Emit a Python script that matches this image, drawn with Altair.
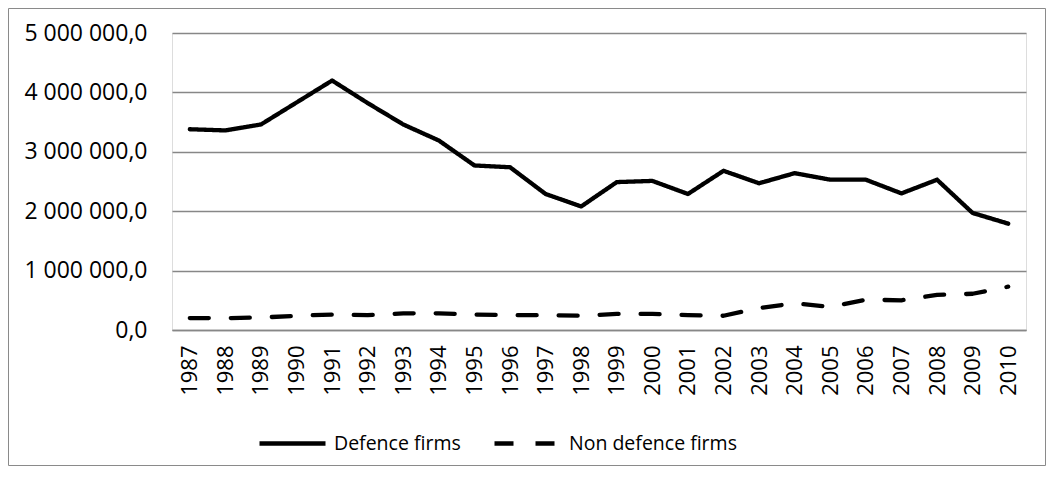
import altair as alt
import pandas as pd

years = [str(y) for y in range(1987, 2011)]
defence = [3380000, 3360000, 3460000, 3830000, 4200000, 3820000, 3460000, 3190000,
           2770000, 2740000, 2290000, 2080000, 2490000, 2510000, 2290000, 2680000,
           2470000, 2640000, 2530000, 2530000, 2300000, 2530000, 1970000, 1790000]
non_defence = [200000, 200000, 210000, 240000, 260000, 250000, 280000, 280000,
               260000, 250000, 250000, 240000, 270000, 270000, 250000, 240000,
               370000, 450000, 390000, 510000, 500000, 590000, 610000, 730000]
series_names = ["Defence firms", "Non defence firms"]

rows = []
for name, vals in zip(series_names, [defence, non_defence]):
    for y, v in zip(years, vals):
        rows.append({"year": y, "value": v, "series": name})
df = pd.DataFrame(rows)

FONT = "Open Sans"
W, H = 854, 297
PAD = {"left": 164, "top": 25, "right": 20, "bottom": 136}

lines = alt.Chart(df).mark_line(
    color="black", strokeWidth=4.3, strokeCap="round", strokeJoin="round"
).encode(
    x=alt.X("year:O", sort=years,
            scale=alt.Scale(type="point", padding=0.5),
            axis=alt.Axis(title=None, labelAngle=270, labelFont=FONT, labelFontSize=22,
                          labelColor="black", labelPadding=15, ticks=False,
                          domain=True, domainColor="#878787", domainWidth=1.3,
                          grid=False)),
    y=alt.Y("value:Q",
            scale=alt.Scale(domain=[0, 5000000], nice=False),
            axis=alt.Axis(title=None, values=[0, 1000000, 2000000, 3000000, 4000000, 5000000],
                          labelExpr="replace(replace(format(datum.value, ',.1f'), regexp(',', 'g'), ' '), '.', ',')",
                          labelFont=FONT, labelFontSize=23, labelColor="black",
                          labelPadding=25, ticks=False, domain=False,
                          grid=True, gridColor="#878787", gridWidth=1.3)),
    strokeDash=alt.StrokeDash("series:N",
                              scale=alt.Scale(domain=series_names, range=[[1, 0], [19, 22]]),
                              legend=alt.Legend(title=None, orient="none", direction="horizontal",
                                                legendX=85, legendY=375,
                                                symbolType="stroke", symbolSize=4356,
                                                symbolStrokeWidth=4.5, symbolStrokeColor="black",
                                                labelFont=FONT, labelFontSize=19.5, labelColor="black",
                                                labelOffset=6, columnPadding=24, padding=0,
                                                labelLimit=400)),
    detail="series:N",
)

border = alt.Chart(alt.Data(values=[{"a": 1}])).mark_rect(
    fill="white", fillOpacity=0, stroke="#8a8a8a", strokeWidth=1
).encode(
    x=alt.value(-PAD["left"] + 0.5),
    x2=alt.value(W + PAD["right"] - 0.5),
    y=alt.value(-PAD["top"] + 0.5),
    y2=alt.value(H + PAD["bottom"] - 0.5),
)

chart = alt.layer(border, lines).properties(
    width=W, height=H,
    autosize=alt.AutoSizeParams(type="none"),
    padding=PAD,
).configure_view(stroke=None).configure(background="white")

chart.save("out.html", embed_options={"renderer": "svg", "actions": False})
